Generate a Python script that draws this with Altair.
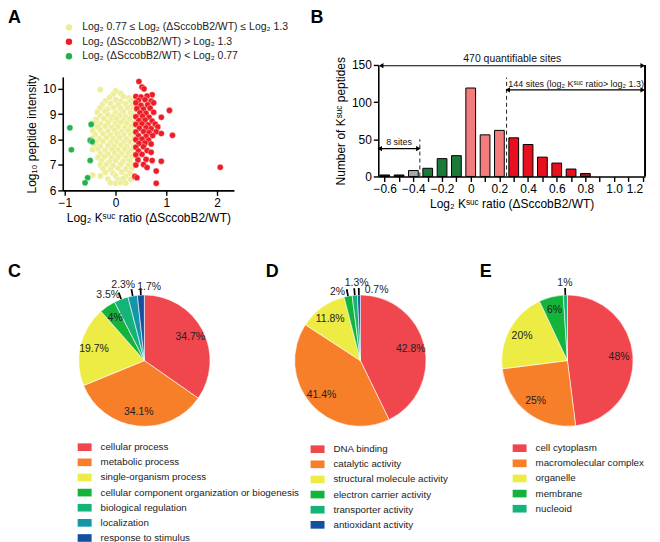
import altair as alt
import pandas as pd

FONT = "Liberation Sans"

# ---------------- Panel A : scatter ----------------
yellow_pts = [
    (-0.30, 9.97), (0.00, 9.92),
    (-0.05, 9.78), (0.10, 9.82),
    (-0.12, 9.66), (0.15, 9.70), (0.26, 9.64),
    (-0.20, 9.52), (0.00, 9.57), (0.10, 9.50), (0.30, 9.55),
    (-0.26, 9.38), (-0.10, 9.42), (0.05, 9.36), (0.20, 9.41), (0.33, 9.35),
    (-0.31, 9.24), (-0.16, 9.20), (-0.04, 9.27), (0.10, 9.22), (0.24, 9.26), (0.35, 9.19),
    (-0.36, 9.08), (-0.21, 9.12), (0.00, 9.06), (0.15, 9.11), (0.29, 9.05),
    (-0.30, 8.94), (-0.15, 8.98), (-0.05, 8.92), (0.08, 8.96), (0.20, 8.91), (0.35, 8.97),
    (-0.38, 8.80), (-0.23, 8.83), (-0.10, 8.78), (0.02, 8.82), (0.15, 8.77), (0.28, 8.81),
    (-0.42, 8.66), (-0.30, 8.62), (-0.15, 8.67), (0.00, 8.63), (0.10, 8.68), (0.22, 8.64), (0.36, 8.66),
    (-0.35, 8.50), (-0.20, 8.53), (-0.08, 8.48), (0.05, 8.52), (0.18, 8.47), (0.30, 8.51),
    (-0.45, 8.35), (-0.30, 8.38), (-0.15, 8.33), (-0.02, 8.37), (0.12, 8.32), (0.25, 8.36), (0.37, 8.34),
    (-0.40, 8.20), (-0.25, 8.23), (-0.10, 8.18), (0.03, 8.22), (0.16, 8.19), (0.30, 8.21),
    (-0.45, 8.06), (-0.32, 8.03), (-0.18, 8.07), (-0.05, 8.04), (0.08, 8.08), (0.22, 8.03), (0.35, 8.06),
    (-0.38, 7.90), (-0.25, 7.93), (-0.10, 7.88), (0.02, 7.92), (0.15, 7.89), (0.28, 7.91),
    (-0.42, 7.76), (-0.30, 7.73), (-0.15, 7.77), (-0.03, 7.74), (0.10, 7.78), (0.22, 7.73), (0.36, 7.76),
    (-0.45, 7.60), (-0.35, 7.63), (-0.20, 7.58), (-0.07, 7.62), (0.05, 7.59), (0.18, 7.63), (0.30, 7.58),
    (-0.30, 7.46), (-0.15, 7.43), (-0.02, 7.47), (0.12, 7.44), (0.25, 7.46), (0.37, 7.42),
    (-0.35, 7.30), (-0.22, 7.33), (-0.08, 7.28), (0.05, 7.32), (0.20, 7.29), (0.32, 7.31),
    (-0.28, 7.16), (-0.12, 7.13), (0.00, 7.17), (0.15, 7.14), (0.28, 7.16),
    (-0.30, 7.00), (-0.18, 7.03), (-0.05, 6.98), (0.10, 7.02), (0.25, 6.99), (0.35, 7.03),
    (-0.25, 6.86), (-0.10, 6.83), (0.05, 6.87), (0.20, 6.84), (0.32, 6.86),
    (-0.20, 6.71), (-0.05, 6.68), (0.12, 6.72), (0.28, 6.69),
    (-0.45, 6.60), (-0.30, 6.57), (0.00, 6.58), (0.20, 6.55),
    (-0.15, 6.45), (0.05, 6.43), (0.15, 6.47), (0.30, 6.44),
    (-0.10, 6.30), (0.00, 6.28), (0.10, 6.31), (0.20, 6.29),
]
red_pts = [
    (0.46, 10.29), (0.52, 10.07), (0.56, 10.00), (0.72, 9.77),
    (0.40, 9.70), (0.50, 9.68), (0.62, 9.72),
    (0.45, 9.55), (0.58, 9.57), (0.70, 9.52),
    (0.40, 9.45), (0.75, 9.45),
    (0.50, 9.35), (0.63, 9.37),
    (0.42, 9.22), (0.55, 9.20), (0.68, 9.24), (1.06, 9.15),
    (0.48, 9.06), (0.60, 9.04), (0.75, 9.08),
    (0.40, 8.90), (0.53, 8.92), (0.66, 8.88), (0.90, 8.88),
    (0.46, 8.75), (0.58, 8.77), (0.72, 8.73),
    (0.40, 8.60), (0.52, 8.62), (0.64, 8.58), (0.78, 8.61),
    (0.47, 8.45), (0.60, 8.47), (0.70, 8.43), (0.83, 8.50),
    (0.40, 8.30), (0.55, 8.32), (0.66, 8.28), (0.80, 8.31),
    (0.90, 8.24), (1.12, 8.17),
    (0.45, 8.15), (0.60, 8.13), (0.73, 8.16),
    (0.40, 8.00), (0.52, 8.02), (0.65, 7.98),
    (0.46, 7.85), (0.58, 7.87), (0.70, 7.83),
    (0.40, 7.70), (0.55, 7.72),
    (0.45, 7.55), (0.62, 7.57), (0.70, 7.50),
    (0.40, 7.40), (0.52, 7.42),
    (0.44, 7.20), (0.60, 7.22), (0.72, 7.18), (0.90, 7.15),
    (0.40, 7.00), (0.55, 7.02), (0.62, 6.90),
    (0.80, 6.76), (0.38, 6.55), (0.42, 6.50), (0.80, 6.28),
    (2.06, 6.91),
]
green_pts = [
    (-0.90, 8.47), (-0.87, 7.60), (-0.48, 8.60), (-0.50, 7.97),
    (-0.46, 7.92), (-0.50, 7.18), (-0.55, 6.50), (-0.60, 6.30),
]
legA_labels = [
    "Log₂ 0.77 ≤ Log₂ (ΔSccobB2/WT) ≤ Log₂ 1.3",
    "Log₂ (ΔSccobB2/WT) > Log₂ 1.3",
    "Log₂ (ΔSccobB2/WT) < Log₂ 0.77",
]
legA_colors = ["#eeee99", "#ee1c24", "#22b14c"]

# ---------------- Panel B : histogram ----------------
bin_centers = [-0.6, -0.5, -0.4, -0.3, -0.2, -0.1, 0.0, 0.1, 0.2, 0.3, 0.4, 0.5, 0.6, 0.7, 0.8]
bin_counts = [2, 2, 8, 11, 24, 28, 119, 56, 62, 52, 43, 26, 18, 10, 4]
bin_groups = ["dark", "dark", "gray", "green", "green", "green", "pink", "pink", "pink",
              "red", "red", "red", "red", "red", "darkred"]
group_names = ["dark", "gray", "green", "pink", "red", "darkred"]
group_colors = ["#1a1a1a", "#a8a8a8", "#1b7a3a", "#f47c7c", "#e8101e", "#a31a1a"]
b_ticks = [round(-0.6 + 0.1 * i, 1) for i in range(19)]

arrow_x1 = [-0.625, 0.258, -0.635]
arrow_x2 = [1.200, 1.200, -0.365]
arrow_y = [149, 116.5, 37.5]
dash_x = [0.25, -0.355]
dash_top = [133, 50]
note_text = ["470 quantifiable sites", "144 sites (log₂ Kˢᵘᶜ ratio> log₂ 1.3)", "8 sites"]
note_x = [0.29, 0.735, -0.5]
note_y = [158, 125, 46]
note_size = [10.5, 9, 9]

# ---------------- Panels C, D, E : pies ----------------
c_cats = ["cellular process", "metabolic process", "single-organism process",
          "cellular component organization or biogenesis", "biological regulation",
          "localization", "response to stimulus"]
c_vals = [34.7, 34.1, 19.7, 4, 3.5, 2.3, 1.7]
c_cols = ["#f0474e", "#f77f2a", "#ecec44", "#14b43c", "#14b478", "#1496a8", "#1450a0"]

d_cats = ["DNA binding", "catalytic activity", "structural molecule activity",
          "electron carrier activity", "transporter activity", "antioxidant activity"]
d_vals = [42.8, 41.4, 11.8, 2, 1.3, 0.7]
d_cols = ["#f0474e", "#f77f2a", "#ecec44", "#14b43c", "#14b478", "#1450a0"]

e_cats = ["cell cytoplasm", "macromolecular complex", "organelle", "membrane", "nucleoid"]
e_vals = [48, 25, 20, 6, 1]
e_cols = ["#f0474e", "#f77f2a", "#ecec44", "#14b43c", "#14b478"]


def letter(ch, dx, dy):
    return alt.Chart(pd.DataFrame({"t": [ch]})).mark_text(
        font=FONT, fontSize=18, fontWeight="bold", align="left", baseline="top", color="black"
    ).encode(x=alt.value(dx), y=alt.value(dy), text="t:N")


# ---- A ----
rowsA = ([(x, y, legA_labels[0]) for x, y in yellow_pts]
         + [(x, y, legA_labels[1]) for x, y in red_pts]
         + [(x, y, legA_labels[2]) for x, y in green_pts])
dfA = pd.DataFrame(rowsA, columns=["x", "y", "grp"])

pointsA = alt.Chart(dfA).mark_circle(size=38, opacity=1, stroke="white", strokeWidth=0.35).encode(
    x=alt.X("x:Q", scale=alt.Scale(domain=[-1.04, 2.33], nice=False, zero=False),
            axis=alt.Axis(values=[-1, 0, 1, 2], title="Log₂ Kˢᵘᶜ ratio (ΔSccobB2/WT)")),
    y=alt.Y("y:Q", scale=alt.Scale(domain=[6, 10.47], range=[126, 12], nice=False, zero=False),
            axis=alt.Axis(values=[6, 7, 8, 9, 10], title="Log₁₀ peptide intensity")),
    color=alt.Color("grp:N", scale=alt.Scale(domain=legA_labels, range=legA_colors),
                    legend=alt.Legend(orient="none", legendX=1, legendY=-43, title=None,
                                      labelFontSize=10.5, symbolType="circle", symbolSize=42,
                                      rowPadding=3.5, labelOffset=8, symbolStrokeWidth=0,
                                      symbolOpacity=1, padding=0, labelLimit=400,
                                      labelColor="#222")),
    order=alt.Order("idx:Q"),
).transform_window(idx="row_number()")

panelA = alt.layer(pointsA, letter("A", -55, -56)).properties(width=172, height=126)

# ---- B ----
dfB = pd.DataFrame({"c": bin_centers, "n": bin_counts, "g": bin_groups})
xscaleB = alt.Scale(domain=[-0.645, 1.216], nice=False, zero=False)
yscaleB = alt.Scale(domain=[0, 150], nice=False, zero=True)
axisXB = alt.Axis(
    values=b_ticks, title="Log₂ Kˢᵘᶜ ratio (ΔSccobB2/WT)",
    labelExpr="abs(datum.value) < 0.001 ? '0' : (round(abs(datum.value)*10) % 2 == 0 ? format(datum.value, '.1f') : '')",
    labelAlign={"condition": {"test": "datum.value > 1.15", "value": "right"}, "value": "center"},
)
axisYB = alt.Axis(values=[0, 50, 100, 150], title="Number of Kˢᵘᶜ peptides")


def xb(field):
    return alt.X(field, scale=xscaleB, axis=axisXB)


def yb(field):
    return alt.Y(field, scale=yscaleB, axis=axisYB)


bars = alt.Chart(dfB).transform_calculate(
    x1="datum.c - 0.034", x2="datum.c + 0.034", zero="0"
).mark_bar(stroke="black", strokeWidth=1, opacity=1).encode(
    x=xb("x1:Q"), x2="x2:Q", y=yb("n:Q"), y2="zero:Q",
    color=alt.Color("g:N", scale=alt.Scale(domain=group_names, range=group_colors), legend=None),
)

dfArrow = pd.DataFrame({"a": arrow_x1, "b": arrow_x2, "y": arrow_y})
arrow_lines = alt.Chart(dfArrow).mark_rule(color="black", strokeWidth=1.2).encode(
    x=xb("a:Q"), x2="b:Q", y=yb("y:Q"))
head_l = alt.Chart(dfArrow).mark_point(shape="triangle-left", filled=True, size=28, color="black",
                                       opacity=1).encode(x=xb("a:Q"), y=yb("y:Q"))
head_r = alt.Chart(dfArrow).mark_point(shape="triangle-right", filled=True, size=28, color="black",
                                       opacity=1).encode(x=xb("b:Q"), y=yb("y:Q"))
dfDash = pd.DataFrame({"x": dash_x, "top": dash_top, "bot": [0, 0]})
dashes = alt.Chart(dfDash).mark_rule(color="#222", strokeWidth=1, strokeDash=[4, 3]).encode(
    x=xb("x:Q"), y=yb("bot:Q"), y2="top:Q")
dfEdge = pd.DataFrame({"x": [1.216], "lo": [0], "hi": [150]})
edge = alt.Chart(dfEdge).mark_rule(color="black", strokeWidth=2).encode(
    x=xb("x:Q"), y=yb("lo:Q"), y2="hi:Q")
notes = []
for t, nx, ny, fs in zip(note_text, note_x, note_y, note_size):
    notes.append(alt.Chart(pd.DataFrame({"t": [t], "x": [nx], "y": [ny]})).mark_text(
        font=FONT, fontSize=fs, color="#111").encode(x=xb("x:Q"), y=yb("y:Q"), text="t:N"))

panelB = alt.layer(bars, dashes, edge, arrow_lines, head_l, head_r, *notes,
                   letter("B", -68, -56)).properties(width=268, height=112)

# ---- pies ----
TH = alt.Scale(domain=[0, 100], range=[0, 6.283185307])
CY = 98


def pie(cats, vals, cols, cx, legx, legy, ch, chx, width, offs):
    df = pd.DataFrame({"cat": cats, "value": vals, "idx": list(range(len(cats))),
                       "lab": [f"{v:g}%" for v in vals]})
    base = alt.Chart(df).transform_window(
        cum="sum(value)", frame=[None, 0], sort=[alt.SortField("idx")]
    ).transform_calculate(start="datum.cum - datum.value", mid="datum.cum - datum.value / 2")
    arcs = base.mark_arc(outerRadius=66, stroke="white", strokeWidth=0.6).encode(
        theta=alt.Theta("start:Q", scale=TH, stack=None), theta2="cum:Q",
        color=alt.Color("cat:N", scale=alt.Scale(domain=cats, range=cols), sort=None,
                        legend=alt.Legend(orient="none", legendX=legx, legendY=legy, title=None,
                                          symbolType="M-1,-0.55H1V0.55H-1Z", symbolSize=196,
                                          labelFontSize=9.8, rowPadding=3.2, labelOffset=9,
                                          symbolStrokeWidth=0, symbolOpacity=1, padding=0,
                                          labelLimit=400, labelColor="#222")),
        x=alt.value(cx), y=alt.value(CY))
    inner = base.transform_filter("datum.value >= 4").mark_text(
        radius=52, font=FONT, fontSize=10.5, color="#222").encode(
        theta=alt.Theta("mid:Q", scale=TH, stack=None), text="lab:N",
        x=alt.value(cx), y=alt.value(CY))
    ticks = base.transform_filter("datum.value < 4").transform_calculate(
        t0="datum.mid - 0.2", t1="datum.mid + 0.2").mark_arc(
        innerRadius=66, outerRadius=73, color="black").encode(
        theta=alt.Theta("t0:Q", scale=TH, stack=None), theta2="t1:Q",
        x=alt.value(cx), y=alt.value(CY))
    layers = [arcs, inner, ticks]
    for i, v in enumerate(vals):
        if v < 4:
            dx, dy = offs.get(i, (0, 0))
            layers.append(base.transform_filter(f"datum.idx == {i}").mark_text(
                radius=80, font=FONT, fontSize=10.5, color="#222", dx=dx, dy=dy).encode(
                theta=alt.Theta("mid:Q", scale=TH, stack=None), text="lab:N",
                x=alt.value(cx), y=alt.value(CY)))
    layers.append(letter(ch, chx, 0))
    return alt.layer(*layers).properties(width=width, height=260)


panelC = pie(c_cats, c_vals, c_cols, 82, 15, 178, "C", -55, 217,
             {4: (-8, 9), 5: (-7, 3), 6: (9, 6)})
panelD = pie(d_cats, d_vals, d_cols, 82, 32, 180, "D", -13, 200,
             {3: (-8, 10), 4: (3, 2), 5: (18, 9)})
panelE = pie(e_cats, e_vals, e_cols, 90, 35, 179, "E", 2, 175,
             {4: (0, 2)})

top = alt.hconcat(panelA, panelB, spacing=145, bounds="flush").resolve_scale(color="independent")
bottom = alt.hconcat(panelC, panelD, panelE, spacing=0, bounds="flush").resolve_scale(
    color="independent", theta="independent")

chart = alt.vconcat(top, bottom, spacing=40, bounds="full").resolve_scale(
    color="independent"
).properties(padding=0).configure(font=FONT).configure_view(stroke=None).configure_axis(
    domainColor="black", domainWidth=1.6, tickColor="black", tickWidth=1.4, tickSize=5,
    labelColor="black", titleColor="black", labelFontSize=12, titleFontSize=12,
    titleFontWeight="normal", grid=False, labelFont=FONT, titleFont=FONT,
).configure_legend(labelFont=FONT)

chart.save("out.html", embed_options={"renderer": "svg", "actions": False})
